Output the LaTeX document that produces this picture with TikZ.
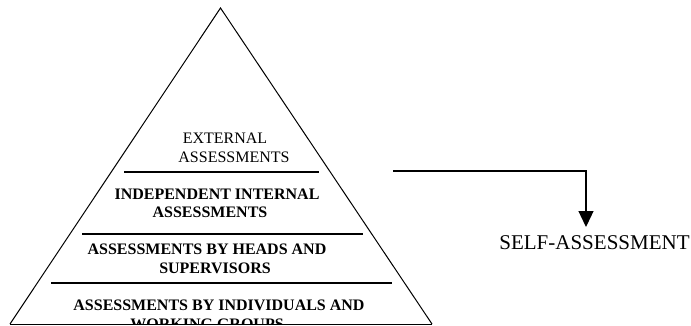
\documentclass[tikz,border=0pt]{standalone}
\usepackage{fontspec}
\setmainfont{Liberation Serif}
\usetikzlibrary{arrows.meta}

\begin{document}
\begin{tikzpicture}[x=1pt,y=-1pt]
	\useasboundingbox (0,0) rectangle (691,326);
	\tikzset{
		level/.style={align=center,inner sep=0,font=\fontsize{16}{18.5}\selectfont\bfseries},
		divider/.style={line width=1.6pt}
	}
	\coordinate (apex) at (220.5,8);
	\coordinate (left) at (10,324);
	\coordinate (right) at (432,324);
	\draw[line width=1pt] (left) -- (apex) -- (right);
	% levels of the pyramid
	\node[level,font=\fontsize{16}{19}\selectfont,anchor=base] (external) at (225,163) {EXTERNAL\\\hspace*{18pt}ASSESSMENTS};
	\node[level,anchor=base] (internal) at (217,218) {INDEPENDENT INTERNAL\\ASSESSMENTS\hspace*{14pt}};
	\node[level,anchor=base] (heads) at (207,273) {ASSESSMENTS BY HEADS AND\\\hspace*{16pt}SUPERVISORS};
	\begin{scope}
		\clip (0,0) rectangle (691,323);
		\node[level,anchor=base] (individuals) at (219,329) {ASSESSMENTS BY INDIVIDUALS AND\\WORKING GROUPS\hspace*{24pt}};
	\end{scope}
	\draw[divider] (124,172) -- (319,172);
	\draw[divider] (82,234) -- (363,234);
	\draw[divider] (51,283) -- (392,283);
	\draw[line width=1pt] (left) -- (right);
	% self-assessment
	\node[inner sep=0,anchor=base,font=\fontsize{21}{24}\selectfont] (self) at (594.5,249) {SELF-ASSESSMENT};
	\coordinate (from) at (393,171);
	\coordinate (tip) at (586,227);
	\draw[line width=1.3pt,-{Triangle[length=16pt,width=15pt]}] (from) -| (tip);
\end{tikzpicture}
\end{document}
